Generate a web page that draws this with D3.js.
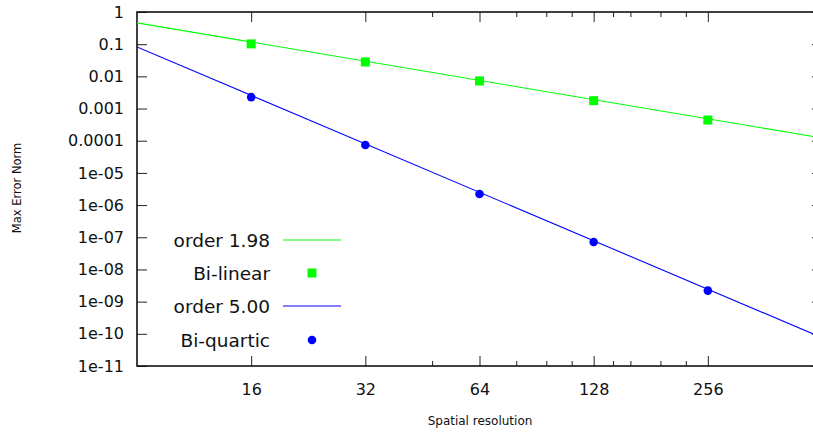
<!DOCTYPE html>
<html><head><meta charset="utf-8">
<script src="https://cdn.jsdelivr.net/npm/d3@7"></script>
<style>body{margin:0;background:#fff}svg{display:block}text{font-family:"DejaVu Sans",sans-serif}</style>
</head><body>
<script>
const resolution = [16, 32, 64, 128, 256];
const biLinear = [0.102, 0.028, 0.0072, 0.00176, 0.00044];
const biQuartic = [0.00227, 7.4e-5, 2.2e-6, 7.1e-8, 2.2e-9];
const fitLinearN = [8, 512];
const fitLinearE = [0.46, 1.22e-4];
const fitQuarticN = [8, 512];
const fitQuarticE = [0.082, 7.6e-11];
const xTicks = [16, 32, 64, 128, 256];
const xMinorTicks = [48, 80, 96, 112, 144, 160, 192, 224];
const yTicks = [1, 0.1, 0.01, 0.001, 0.0001, 1e-5, 1e-6, 1e-7, 1e-8, 1e-9, 1e-10, 1e-11];
const yTickLabels = ["1","0.1","0.01","0.001","0.0001","1e-05","1e-06","1e-07","1e-08","1e-09","1e-10","1e-11"];
const legendLabels = ["order 1.98", "Bi-linear", "order 5.00", "Bi-quartic"];

const W = 813, H = 435;
const L = 137, R = 822, T = 12, B = 366;
const svg = d3.select("body").append("svg").attr("width", W).attr("height", H);
const x = d3.scaleLog().base(2).domain([8, 512]).range([L, R]);
const y = d3.scaleLog().domain([1e-11, 1]).range([B, T]);

const green = "#00ff00", blue = "#0000ff";
const clip = svg.append("clipPath").attr("id","c").append("rect").attr("x",L).attr("y",T).attr("width",R-L).attr("height",B-T);

// axes
const fmtX = d => d;
svg.append("g").attr("transform",`translate(0,${B})`)
  .call(d3.axisBottom(x).tickValues(xTicks).tickFormat(fmtX).tickSize(-10).tickPadding(18))
  .call(g=>{g.select(".domain").remove(); g.selectAll("line").attr("stroke","#222");
    g.selectAll("text").attr("font-size",16).attr("fill","#111").attr("font-family","DejaVu Sans");});
svg.append("g").attr("transform",`translate(0,${B})`)
  .call(d3.axisBottom(x).tickValues(xMinorTicks).tickFormat("").tickSize(-5))
  .call(g=>{g.select(".domain").remove(); g.selectAll("line").attr("stroke","#222");});
svg.append("g").attr("transform",`translate(0,${T})`)
  .call(d3.axisTop(x).tickValues(xTicks).tickFormat("").tickSize(-10))
  .call(g=>{g.select(".domain").remove(); g.selectAll("line").attr("stroke","#222");});
svg.append("g").attr("transform",`translate(0,${T})`)
  .call(d3.axisTop(x).tickValues(xMinorTicks).tickFormat("").tickSize(-5))
  .call(g=>{g.select(".domain").remove(); g.selectAll("line").attr("stroke","#222");});
svg.append("g").attr("transform",`translate(${L},0)`)
  .call(d3.axisLeft(y).tickValues(yTicks).tickFormat((d,i)=>yTickLabels[i]).tickSize(-10).tickPadding(13))
  .call(g=>{g.select(".domain").remove(); g.selectAll("line").attr("stroke","#222");
    g.selectAll("text").attr("font-size",16).attr("fill","#111").attr("font-family","DejaVu Sans");});
svg.append("g").attr("transform",`translate(${R},0)`)
  .call(d3.axisRight(y).tickValues(yTicks).tickFormat("").tickSize(-10))
  .call(g=>{g.select(".domain").remove(); g.selectAll("line").attr("stroke","#222");});

svg.append("rect").attr("x",L).attr("y",T).attr("width",R-L).attr("height",B-T)
  .attr("fill","none").attr("stroke","#111").attr("stroke-width",1.6);

// fit lines
const line = d3.line().x(d=>x(d[0])).y(d=>y(d[1]));
const plot = svg.append("g").attr("clip-path","url(#c)");
plot.append("path").attr("d", line(fitLinearN.map((n,i)=>[n, fitLinearE[i]])))
  .attr("fill","none").attr("stroke",green).attr("stroke-width",1.1);
plot.append("path").attr("d", line(fitQuarticN.map((n,i)=>[n, fitQuarticE[i]])))
  .attr("fill","none").attr("stroke",blue).attr("stroke-width",1.1);

// points
plot.selectAll(".sq").data(resolution.map((n,i)=>[n, biLinear[i]])).enter().append("rect")
  .attr("x",d=>x(d[0])-4.5).attr("y",d=>y(d[1])-4.5).attr("width",9).attr("height",9).attr("fill",green);
plot.selectAll(".ci").data(resolution.map((n,i)=>[n, biQuartic[i]])).enter().append("circle")
  .attr("cx",d=>x(d[0])).attr("cy",d=>y(d[1])).attr("r",4.3).attr("fill",blue);

// legend
const legY = [240, 273, 306, 340];
const lg = svg.append("g");
legendLabels.forEach((t,i)=>{
  lg.append("text").attr("x",270).attr("y",legY[i]).attr("dy","0.36em").attr("text-anchor","end")
    .attr("font-size",18.5).attr("fill","#111").text(t);
});
lg.append("line").attr("x1",283).attr("x2",341).attr("y1",legY[0]).attr("y2",legY[0]).attr("stroke",green).attr("stroke-width",1.1);
lg.append("rect").attr("x",312-4.5).attr("y",legY[1]-4.5).attr("width",9).attr("height",9).attr("fill",green);
lg.append("line").attr("x1",283).attr("x2",341).attr("y1",legY[2]).attr("y2",legY[2]).attr("stroke",blue).attr("stroke-width",1.1);
lg.append("circle").attr("cx",312).attr("cy",legY[3]).attr("r",4.3).attr("fill",blue);

// axis titles
svg.append("text").attr("x",480).attr("y",425).attr("text-anchor","middle").attr("font-size",12).attr("fill","#111").text("Spatial resolution");
svg.append("text").attr("transform","translate(21,188) rotate(-90)").attr("text-anchor","middle").attr("font-size",11.5).attr("fill","#111").text("Max Error Norm");
</script>
</body></html>
